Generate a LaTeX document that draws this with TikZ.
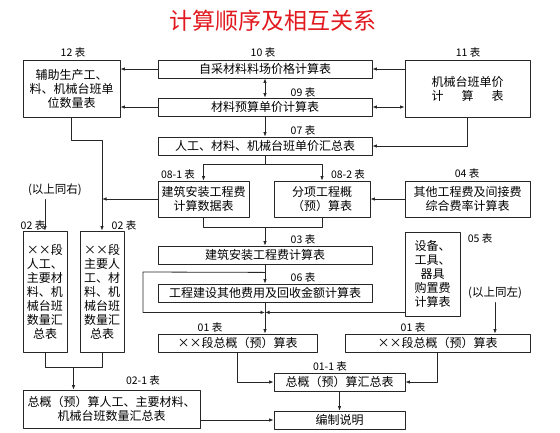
\documentclass[tikz,border=0pt]{standalone}
\usepackage{fontspec}
\setmainfont{Noto Sans CJK SC}
\usepackage{tikz}
\usetikzlibrary{arrows.meta}
\usetikzlibrary{calc}
\definecolor{TitleRed}{RGB}{225,25,30}

\begin{document}
\begin{tikzpicture}[line cap=round,line join=round,>={Latex[length=4.5pt,width=3.5pt]},x=1pt,y=-1pt,
  box/.style={draw=black!85,line width=.8pt,inner sep=0pt,align=center,font=\fontsize{12}{14}\selectfont},
  tag/.style={font=\fontsize{10.5}{11}\selectfont},
  link/.style={line width=.8pt,color=black!85}]
\useasboundingbox (0,0) rectangle (560,432);

\node[font=\fontsize{23}{23}\selectfont,text=TitleRed] (title) at (273,21) {计算顺序及相互关系};

% top row
\node[box,minimum width=97pt,minimum height=57pt] (t12) at (71.5,88.5) {辅助生产工、\\料、机械台班单\\位数量表};
\node[box,minimum width=214pt,minimum height=18pt] (t10) at (265,69) {自采材料料场价格计算表};
\node[box,minimum width=214pt,minimum height=18pt] (t09) at (265,107) {材料预算单价计算表};
\node[box,minimum width=125pt,minimum height=57pt,align=left] (t11) at (467.5,88.5) {机械台班单价\\计\hspace{1.5em}算\hspace{1.5em}表};
\node[box,minimum width=214pt,minimum height=18pt] (t07) at (265,146) {人工、材料、机械台班单价汇总表};

% middle
\node[box,minimum width=91pt,minimum height=36pt] (t081) at (203.5,199) {建筑安装工程费\\计算数据表};
\node[box,minimum width=96pt,minimum height=36pt] (t082) at (322,199) {分项工程概\\（预）算表};
\node[box,minimum width=125pt,minimum height=36pt] (t04) at (467.5,199) {其他工程费及间接费\\综合费率计算表};
\node[box,minimum width=214pt,minimum height=18pt] (t03) at (265,255) {建筑安装工程费计算表};
\node[box,minimum width=55pt,minimum height=84pt] (t05) at (432.5,274) {设备、\\工具、\\器具\\购置费\\计算表};
\node[box,minimum width=214pt,minimum height=18pt] (t06) at (265,293) {工程建设其他费用及回收金额计算表};
\node[box,minimum width=44pt,minimum height=121pt] (t02a) at (45,291.5) {××段\\人工、\\主要材\\料、机\\械台班\\数量汇\\总表};
\node[box,minimum width=44pt,minimum height=121pt] (t02b) at (102,291.5) {××段\\主要人\\工、材\\料、机\\械台班\\数量汇\\总表};

% bottom
\node[box,minimum width=159pt,minimum height=18pt] (t01a) at (237.5,343) {××段总概（预）算表};
\node[box,minimum width=185pt,minimum height=18pt] (t01b) at (437.5,343) {××段总概（预）算表};
\node[box,minimum width=131pt,minimum height=18pt] (t011) at (339.5,382) {总概（预）算汇总表};
\node[box,minimum width=177pt,minimum height=38pt] (t021) at (111.5,409) {总概（预）算人工、主要材料、\\机械台班数量汇总表};
\node[box,minimum width=131pt,minimum height=18pt] (bz) at (339.5,420) {编制说明};

% table numbers
\node[tag] (n12) at (73,53) {12 表};
\node[tag] (n10) at (263,53) {10 表};
\node[tag] (n11) at (468,53) {11 表};
\node[tag] (n09) at (303,92) {09 表};
\node[tag] (n07) at (303,130) {07 表};
\node[tag] (n081) at (178,174) {08-1 表};
\node[tag] (n082) at (348,174) {08-2 表};
\node[tag] (n04) at (467,173) {04 表};
\node[tag] (n03) at (303,239) {03 表};
\node[tag] (n06) at (303,277) {06 表};
\node[tag] (n05) at (480,238) {05 表};
\node[tag] (n02a) at (33,225) {02 表};
\node[tag] (n02b) at (124,225) {02 表};
\node[tag] (n01a) at (210,327) {01 表};
\node[tag] (n01b) at (413,327) {01 表};
\node[tag] (n011) at (330,366) {01-1 表};
\node[tag] (n021) at (143,380) {02-1 表};
\node[tag,font=\fontsize{11.5}{12}\selectfont] (ly) at (55,190) {(以上同右)};
\node[tag,font=\fontsize{11.5}{12}\selectfont] (lz) at (495,293) {(以上同左)};

% links
\draw[link,->] (t10.west) -- (t10.west -| t12.east);
\draw[link,->] (t09.west) -- (t09.west -| t12.east);
\draw[link,<->] (t10.south) -- (t09.north);
\draw[link,->] (t09.south) -- (t07.north);
\draw[link,->] (t10.east -| t11.west) -- (t10.east);
\draw[link,<->] (t09.east -| t11.west) -- (t09.east);
\draw[link,->] (t11.south) |- (t07.east);

\draw[link,->] (t12.south) -- ++(0,23) -| (t02b.north);
\draw[link,->] (t081.west) -- (t081.west -| t02b.north);

\coordinate (s07) at ($(t07.south)+(0,9)$);
\draw[link] (t07.south) -- (s07);
\draw[link,->] (s07) -| (t081.north);
\draw[link,->] (s07) -| (t082.north);
\draw[link,->] (t04.west) -- (t082.east);

\coordinate (m03) at ($(t03.north)+(0,-18)$);
\draw[link] (t081.south) |- (m03) -| (t082.south);
\draw[link,->] (m03) -- (t03.north);
\draw[link,->] (t03.south) -- (t06.north);

\coordinate (b1) at ($(t03.south)+(0,8)$);
\coordinate (b2) at (143,272);
\coordinate (j1) at ($(t06.south)+(0,10)$);
\draw[link,->] (b1) -- (b2) |- (j1);
\draw[link,->] (t05.west |- j1) -- (j1);
\draw[link,->] (t06.south) -- (t06.south |- t01a.north);

\draw[link,->] (t01a.south) |- (t011.west);
\draw[link,->] (t01b.south) |- (t011.east);
\draw[link,->] (lz.south) -- (lz.south |- t01b.north);
\draw[link,->] (ly.south -| t02a.north) -- (t02a.north);

\coordinate (m02) at ($(t02a.south)!.5!(t02b.south)+(0,15)$);
\draw[link] (t02a.south) |- (m02) -| (t02b.south);
\draw[link,->] (m02) -- (m02 |- t021.north);
\draw[link,->] (t021.east |- bz.west) -- (bz.west);
\draw[link,->] (t011.south) -- (bz.north);

\end{tikzpicture}
\end{document}
